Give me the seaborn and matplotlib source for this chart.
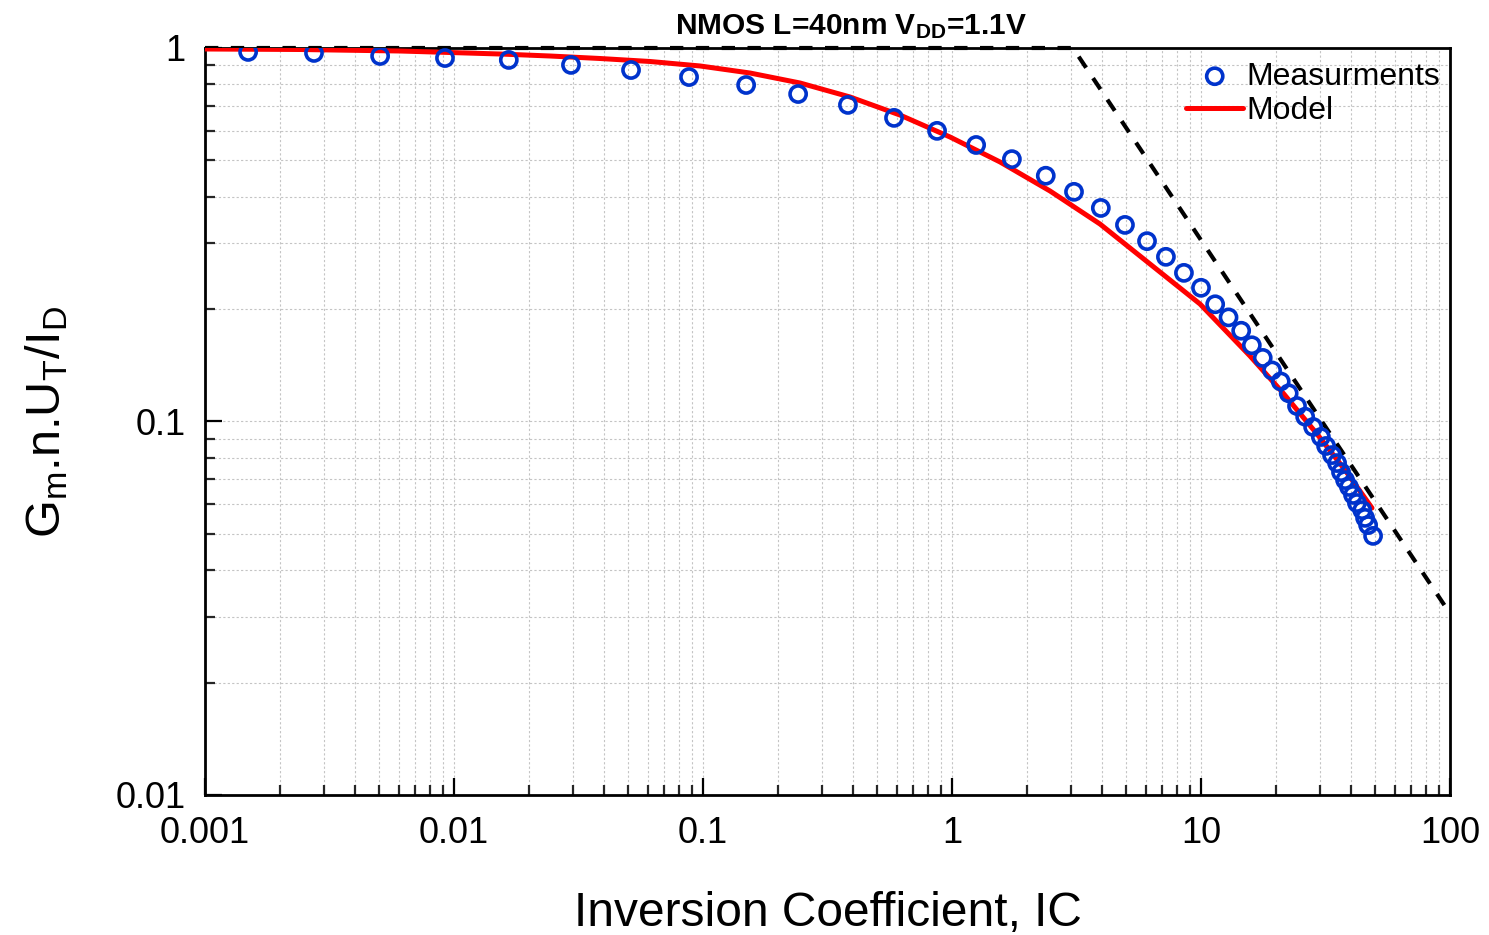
import numpy as np
import pandas as pd
import matplotlib
matplotlib.use("Agg")
import matplotlib.pyplot as plt
import seaborn as sns

# ---- data ----
meas_ic = [0.00149, 0.00274, 0.00505, 0.0092, 0.0166, 0.0295, 0.0514, 0.0879,
           0.149, 0.241, 0.382, 0.585, 0.871, 1.25, 1.74, 2.38, 3.09, 3.96,
           4.95, 6.07, 7.23, 8.54, 10.0, 11.4, 12.9, 14.5, 16.0, 17.7, 19.3,
           20.9, 22.5, 24.3, 26.2, 28.2, 30.3, 31.8, 33.6, 35.2, 36.5, 37.9,
           39.3, 40.8, 42.3, 44.4, 45.6, 46.9, 49.1]
meas_gm = [0.976, 0.970, 0.952, 0.940, 0.929, 0.901, 0.873, 0.836,
           0.796, 0.753, 0.704, 0.650, 0.600, 0.550, 0.504, 0.455, 0.412, 0.373,
           0.336, 0.304, 0.276, 0.250, 0.228, 0.206, 0.190, 0.175, 0.160, 0.148, 0.137,
           0.128, 0.119, 0.110, 0.103, 0.0967, 0.0909, 0.0860, 0.0813, 0.0774, 0.0732, 0.0697,
           0.0668, 0.0636, 0.0605, 0.0579, 0.0552, 0.0528, 0.0494]

model_ic = [0.001, 0.002406, 0.006069, 0.0153, 0.02429, 0.03858, 0.06124, 0.09727,
            0.1545, 0.2453, 0.3895, 0.6183, 0.9817, 1.559, 2.475, 3.93, 6.241,
            9.908, 15.73, 21.35, 29.24, 37.87, 48.61]
model_gm = [0.99385, 0.99079, 0.98168, 0.96368, 0.9519, 0.93731, 0.92023, 0.89515,
            0.85711, 0.80595, 0.73936, 0.66147, 0.57774, 0.49532, 0.41419, 0.33785,
            0.26401, 0.20637, 0.14978, 0.11923, 0.09259, 0.07418, 0.05866]

asym_ic = [0.001, 3.06, 100]
asym_gm = [1.0, 1.0, 0.0306]

x_ticks = [0.001, 0.01, 0.1, 1, 10, 100]
x_ticklabels = ["0.001", "0.01", "0.1", "1", "10", "100"]
y_ticks = [0.01, 0.1, 1]
y_ticklabels = ["0.01", "0.1", "1"]

title = r"NMOS L=40nm V$_{\mathregular{DD}}$=1.1V"
xlabel = "Inversion Coefficient, IC"
ylabel = r"G$_{\mathregular{m}}$.n.U$_{\mathregular{T}}$/I$_{\mathregular{D}}$"

sns.set_theme(style="white")
plt.rcParams["font.family"] = ["Liberation Sans", "DejaVu Sans"]
plt.rcParams["mathtext.fontset"] = "custom"
plt.rcParams["mathtext.rm"] = "Liberation Sans"
plt.rcParams["mathtext.bf"] = "Liberation Sans:bold"
plt.rcParams["mathtext.default"] = "regular"
plt.rcParams["text.color"] = "black"
plt.rcParams["axes.labelcolor"] = "black"

fig = plt.figure(figsize=(14.89, 9.35), dpi=100)
ax = fig.add_axes([205/1489, 1-795/935, (1450-205)/1489, (795-48)/935])

meas_df = pd.DataFrame({"IC": meas_ic, "gm": meas_gm})
model_df = pd.DataFrame({"IC": model_ic, "gm": model_gm})
asym_df = pd.DataFrame({"IC": asym_ic, "gm": asym_gm})

ax.set_xscale("log")
ax.set_yscale("log")

sns.lineplot(data=asym_df, x="IC", y="gm", ax=ax, color="black", lw=3.0,
             linestyle=(0, (3.2, 3.0)), label="_nolegend_", zorder=3, sort=False,
             clip_on=False)
sns.lineplot(data=model_df, x="IC", y="gm", ax=ax, color="#ff0000", lw=3.6,
             label="Model", zorder=4, sort=False)
sns.scatterplot(data=meas_df, x="IC", y="gm", ax=ax, marker="o", s=135,
                facecolor="none", edgecolor="#0033cc", linewidth=2.6,
                label="Measurments", zorder=5)

ax.set_xlim(0.001, 100)
ax.set_ylim(0.01, 1)
ax.set_xticks(x_ticks)
ax.set_xticklabels(x_ticklabels)
ax.set_yticks(y_ticks)
ax.set_yticklabels(y_ticklabels)

ax.grid(True, which="both", color="#c4c4c4", linestyle=(0, (2, 2)), lw=0.8)
ax.set_axisbelow(True)
for s in ax.spines.values():
    s.set_linewidth(2.0)
    s.set_color("black")

ax.tick_params(which="major", direction="in", length=12, width=1.6,
               labelsize=26, colors="black",
               bottom=True, left=True, top=False, right=False)
ax.tick_params(axis="x", which="major", pad=15)
ax.tick_params(axis="y", which="major", pad=14)
ax.tick_params(which="minor", direction="in", length=7, width=1.6,
               bottom=True, left=True, top=False, right=False)

ax.set_xlabel(xlabel, fontsize=34.5, labelpad=29)
ax.set_ylabel(ylabel, fontsize=35)
ax.yaxis.set_label_coords(-0.108, 0.5)
ax.set_title(title, fontsize=21.5, pad=10, fontweight="bold", x=0.519)

handles, labels = ax.get_legend_handles_labels()
order = [labels.index("Measurments"), labels.index("Model")]
ax.legend([handles[i] for i in order], [labels[i] for i in order],
          loc="upper right", bbox_to_anchor=(1.0, 0.9946),
          frameon=False, fontsize=23, handlelength=1.8,
          handletextpad=0.1, borderaxespad=0.1, labelspacing=0.15,
          borderpad=0.2)

fig.savefig("out.png", dpi=100)
